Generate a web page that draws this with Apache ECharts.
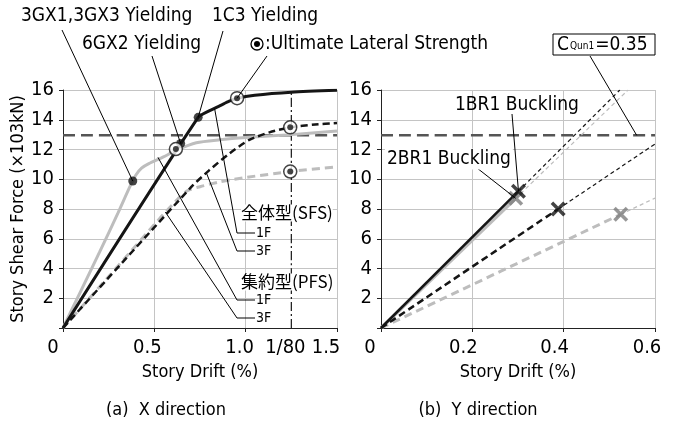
<!DOCTYPE html>
<html><head><meta charset="utf-8">
<script src="https://cdn.jsdelivr.net/npm/echarts@6/dist/echarts.min.js"></script>
<style>html,body{margin:0;padding:0;background:#fff;}#c{width:678px;height:427px;}</style>
</head><body><div id="c"></div><script>
const FONT = "'Liberation Sans Narrow','DejaVu Sans Condensed','Liberation Sans',sans-serif";
const CJK = "'Noto Sans CJK JP','Noto Sans CJK SC',sans-serif";

// ---------- tick labels ----------
const xTickValuesA = [0, 0.5, 1.0, 1.25, 1.5];
const xTickLabelsA = ['0', '0.5', '1.0', '1/80', '1.5'];
const xTickValuesB = [0, 0.2, 0.4, 0.6];
const xTickLabelsB = ['0', '0.2', '0.4', '0.6'];
const yTickValues = [2, 4, 6, 8, 10, 12, 14, 16];

// ---------- reference values ----------
const cQun1Level = 12.95;     // C_Qun1 = 0.35 base shear line (x10^3 kN)
const drift1_80 = 1.25;       // 1/80 story drift (%)

// ---------- (a) X direction curves ----------
const sfs1F_A = [[0,0],[0.74,14.16],[0.80,14.6],[0.86,14.95],[0.91,15.25],[0.953,15.45],[1.05,15.65],[1.25,15.85],[1.5,15.98]];
const sfs3F_A = [[0,0],[0.70,9.45],[0.80,10.6],[0.913,11.75],[1.02,12.65],[1.13,13.15],[1.244,13.49],[1.38,13.68],[1.5,13.78]];
const pfs1F_A = [[0,0],[0.10,2.55],[0.20,5.1],[0.30,7.7],[0.37,9.6],[0.40,10.3],[0.43,10.75],[0.47,11.05],[0.55,11.5],[0.62,11.95],[0.73,12.45],[0.86,12.65],[1.0,12.8],[1.25,13.0],[1.5,13.25]];
const pfs3F_A = [[0,0],[0.30,4.15],[0.53,7.37],[0.60,8.3],[0.676,9.2],[0.75,9.5],[0.85,9.8],[0.913,9.95],[1.0,10.12],[1.244,10.52],[1.5,10.84]];
// yielding points: 3GX1,3GX3 / 6GX2 / 1C3
const yieldPts_A = [[0.382,9.88],[0.644,12.4],[0.74,14.16]];
// ultimate lateral strength: SFS1F, PFS1F, SFS3F, PFS3F
const ultPts_A = [[0.953,15.45],[0.618,12.03],[1.244,13.49],[1.244,10.52]];

// ---------- (b) Y direction curves ----------
const sfs1F_B = [[0,0],[0.301,9.2]];
const sfs1F_B_ext = [[0.301,9.2],[0.523,16]];
const pfs1F_B = [[0,0],[0.295,8.72]];
const pfs1F_B_ext = [[0.295,8.72],[0.541,16]];
const sfs3F_B = [[0,0],[0.388,8.0]];
const sfs3F_B_ext = [[0.388,8.0],[0.6,12.37]];
const pfs3F_B = [[0,0],[0.525,7.64]];
const pfs3F_B_ext = [[0.525,7.64],[0.6,8.73]];
const bucklingBlack_B = [[0.301,9.2],[0.388,8.0]];
const bucklingGray_B = [[0.295,8.72],[0.525,7.64]];

const BLACK = '#151515', GRAY = '#bdbdbd', DGRAY = '#555555', XGRAY = '#7d7d7d', GRID = '#c4c4c4';
const XPATH = 'path://M0,2 L2,0 L6,4 L10,0 L12,2 L8,6 L12,10 L10,12 L6,8 L2,12 L0,10 L4,6 Z';

function xAxisCfg(gi, max, interval, vals, labels, shifts) {
  const rich = {};
  shifts.forEach((s, i) => { rich['p' + i] = { padding: [0, s, 0, 0], fontFamily: FONT, fontSize: 20, color: '#000' }; });
  return {
    type: 'value', gridIndex: gi, min: 0, max: max, interval: interval,
    name: 'Story Drift (%)', nameLocation: 'middle', nameGap: 34,
    nameTextStyle: { fontFamily: FONT, fontSize: 18, color: '#000' },
    axisLine: { show: true, onZero: false, lineStyle: { color: '#222', width: 1 } },
    axisTick: { show: true, length: 4, lineStyle: { color: '#222' } },
    axisLabel: {
      customValues: vals, margin: 10, fontFamily: FONT, fontSize: 20, color: '#000',
      formatter: (v) => { const i = vals.findIndex(t => Math.abs(t - v) < 1e-9); return i < 0 ? '' : '{p' + i + '|' + labels[i] + '}'; },
      rich: rich
    },
    splitLine: { show: true, lineStyle: { color: GRID, width: 1 } }
  };
}
function yAxisCfg(gi, withName) {
  const c = {
    type: 'value', gridIndex: gi, min: 0, max: 16, interval: 2,
    axisLine: { show: true, onZero: false, lineStyle: { color: '#222', width: 1 } },
    axisTick: { show: true, length: 4, lineStyle: { color: '#222' } },
    axisLabel: { customValues: yTickValues, margin: 9, fontFamily: FONT, fontSize: 20, color: '#000' },
    splitLine: { show: true, lineStyle: { color: GRID, width: 1 } }
  };
  if (withName) {
    c.name = 'Story Shear Force (×103kN)'; c.nameLocation = 'middle'; c.nameGap = 33;
    c.nameTextStyle = { fontFamily: FONT, fontSize: 18, color: '#000' };
  }
  return c;
}
function line(gi, data, color, width, type, z) {
  return { type: 'line', xAxisIndex: gi, yAxisIndex: gi, data: data, symbol: 'none', smooth: 0.25, z: z || 2,
    lineStyle: { color: color, width: width, type: type || 'solid', cap: 'butt' }, silent: true };
}

const option = {
  animation: false,
  grid: [
    { left: 63, top: 90, width: 274, height: 238 },
    { left: 381, top: 90, width: 274, height: 238 }
  ],
  xAxis: [
    xAxisCfg(0, 1.5, 0.5, xTickValuesA, xTickLabelsA, [20, 14, 12, 12, 22]),
    xAxisCfg(1, 0.6, 0.2, xTickValuesB, xTickLabelsB, [22, 18, 18, 16])
  ],
  yAxis: [yAxisCfg(0, true), yAxisCfg(1, false)],
  series: [
    // (a)
    line(0, [[0, cQun1Level], [1.5, cQun1Level]], DGRAY, 2.5, [12, 6], 1),
    line(0, [[drift1_80, 0], [drift1_80, 16]], BLACK, 1.2, [9, 3, 2, 3], 1),
    line(0, pfs1F_A, GRAY, 3, 'solid', 2),
    line(0, pfs3F_A, GRAY, 3, [8, 5], 2),
    line(0, sfs3F_A, BLACK, 2.5, [7, 4], 3),
    line(0, sfs1F_A, BLACK, 3, 'solid', 3),
    { type: 'scatter', xAxisIndex: 0, yAxisIndex: 0, data: yieldPts_A, symbol: 'circle', symbolSize: 9, z: 5,
      itemStyle: { color: BLACK }, silent: true },
    { type: 'scatter', xAxisIndex: 0, yAxisIndex: 0, data: ultPts_A, symbol: 'circle', symbolSize: 13, z: 6,
      itemStyle: { color: '#fff', borderColor: BLACK, borderWidth: 1.5 }, silent: true },
    { type: 'scatter', xAxisIndex: 0, yAxisIndex: 0, data: ultPts_A, symbol: 'circle', symbolSize: 6, z: 7,
      itemStyle: { color: BLACK }, silent: true },
    // (b)
    line(1, [[0, cQun1Level], [0.6, cQun1Level]], DGRAY, 2.5, [12, 6], 1),
    line(1, pfs3F_B_ext, GRAY, 1.2, [4, 3], 2),
    line(1, pfs1F_B_ext, GRAY, 1.2, [4, 3], 2),
    line(1, sfs3F_B_ext, BLACK, 1.2, [4, 3], 2),
    line(1, sfs1F_B_ext, BLACK, 1.2, [4, 3], 2),
    line(1, pfs3F_B, GRAY, 3, [8, 5], 3),
    line(1, pfs1F_B, GRAY, 3.5, 'solid', 3),
    line(1, sfs3F_B, BLACK, 2.5, [7, 4], 4),
    line(1, sfs1F_B, BLACK, 2.5, 'solid', 4),
    { type: 'scatter', xAxisIndex: 1, yAxisIndex: 1, data: bucklingGray_B, symbol: XPATH, symbolSize: 15, z: 6,
      itemStyle: { color: XGRAY }, silent: true },
    { type: 'scatter', xAxisIndex: 1, yAxisIndex: 1, data: bucklingBlack_B, symbol: XPATH, symbolSize: 15, z: 7,
      itemStyle: { color: BLACK }, silent: true }
  ]
};

const chart = echarts.init(document.getElementById('c'), null, { renderer: 'canvas' });
chart.setOption(option);

function P(gi, pt) { return chart.convertToPixel({ gridIndex: gi }, pt); }
function txt(t, x, y, size, opts) {
  opts = opts || {};
  return { type: 'text', z: 100, silent: true, style: Object.assign({
    text: t, x: x, y: y, font: size + 'px ' + (opts.family || FONT), fill: '#000',
    align: opts.align || 'left', verticalAlign: 'middle'
  }, opts.style || {}) };
}
function seg(a, b) {
  return { type: 'line', z: 90, silent: true, shape: { x1: a[0], y1: a[1], x2: b[0], y2: b[1] }, style: { stroke: '#000', lineWidth: 1 } };
}
function poly(pts) {
  return { type: 'polyline', z: 90, silent: true, shape: { points: pts }, style: { stroke: '#000', lineWidth: 1, fill: null } };
}

const g = [];
// top annotations
g.push(txt('3GX1,3GX3 Yielding', 21, 16, 19));
g.push(seg([62, 30], P(0, yieldPts_A[0])));
g.push(txt('1C3 Yielding', 212, 16, 19));
g.push(seg([223, 31], P(0, yieldPts_A[2])));
g.push(txt('6GX2 Yielding', 82, 44, 19));
g.push(seg([152, 56], P(0, yieldPts_A[1])));
g.push({ type: 'circle', z: 100, silent: true, shape: { cx: 257, cy: 44, r: 6 }, style: { fill: '#fff', stroke: '#000', lineWidth: 1.3 } });
g.push({ type: 'circle', z: 101, silent: true, shape: { cx: 257, cy: 44, r: 3 }, style: { fill: '#000' } });
g.push(txt(':Ultimate Lateral Strength', 265, 44, 19));
g.push(seg([267, 56], P(0, ultPts_A[0])));
// C_Qun1 box
g.push({ type: 'rect', z: 100, silent: true, shape: { x: 553, y: 34, width: 102, height: 21 }, style: { fill: '#fff', stroke: '#000', lineWidth: 1 } });
g.push({ type: 'text', z: 101, silent: true, style: {
  text: '{a|C}{b|Qun1}{a|=0.35}', x: 557, y: 45, verticalAlign: 'middle', align: 'left',
  rich: { a: { font: '19px ' + FONT, fill: '#000' }, b: { font: '10px ' + FONT, fill: '#000', padding: [3, 1, 0, 1] } }
} });
g.push(seg([590, 56], P(1, [0.56, cQun1Level])));
// SFS / PFS labels
g.push(txt('全体型(SFS)', 241, 213, 17, { family: CJK, style: { backgroundColor: '#fff', padding: [0, 0, 0, 0] } }));
g.push(txt('集約型(PFS)', 241, 282, 17, { family: CJK, style: { backgroundColor: '#fff', padding: [0, 0, 0, 0] } }));
const legs = [
  { label: '1F', y: 233, anchor: [0.83, 14.75] },
  { label: '3F', y: 251, anchor: [0.786, 10.4] },
  { label: '1F', y: 300, anchor: [0.52, 11.47] },
  { label: '3F', y: 318, anchor: [0.56, 7.8] }
];
legs.forEach(l => {
  g.push(poly([P(0, l.anchor), [237, l.y], [255, l.y]]));
  g.push(txt(l.label, 256, l.y, 14));
});
// buckling labels
g.push(txt('1BR1 Buckling', 455, 105, 19));
g.push(seg([512, 114], P(1, bucklingBlack_B[0])));
g.push(txt('2BR1 Buckling', 385, 159, 19, { style: { backgroundColor: '#fff', padding: [1, 2, 1, 2] } }));
g.push(seg([477, 168], P(1, bucklingGray_B[0])));
// captions
g.push(txt('(a)  X direction', 166, 410, 18, { align: 'center' }));
g.push(txt('(b)  Y direction', 478, 410, 18, { align: 'center' }));

chart.setOption({ graphic: g });
</script></body></html>
